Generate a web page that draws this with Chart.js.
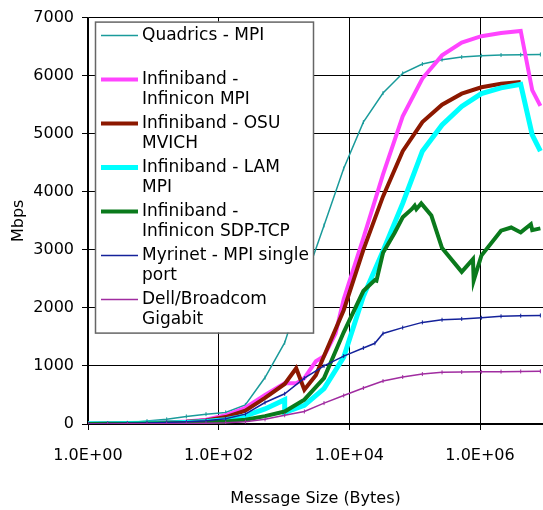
<!DOCTYPE html>
<html>
<head>
<meta charset="utf-8">
<script src="https://cdn.jsdelivr.net/npm/chart.js@4"></script>
<style>
  html, body { margin: 0; padding: 0; background: #fff; }
  #chart { display: block; }
</style>
</head>
<body>
<canvas id="chart" width="543" height="510"></canvas>
<script>
// message sizes in bytes
const sizes = [1, 2, 4, 8, 16, 32, 64, 128, 256, 512, 1024, 2048, 4096, 8192, 16384, 32768, 65536, 131072, 262144, 524288, 1048576, 2097152, 4194304, 8388608];

const xTickValues = [1, 100, 10000, 1000000];
const xTickLabels = ['1.0E+00', '1.0E+02', '1.0E+04', '1.0E+06'];

// Quadrics - MPI
const quadricsMbps = [8, 12, 20, 50, 80, 130, 170, 200, 330, 800, 1400, 2450, 3420, 4400, 5200, 5700, 6040, 6200, 6275, 6320, 6345, 6355, 6360, 6365];

// Infiniband - Infinicon MPI
const infiniconSizes = [1, 2, 4, 8, 16, 32, 64, 128, 256, 512, 1024, 1536, 2048, 3072, 4096, 6144, 8192, 16384, 32768, 65536, 131072, 262144, 524288, 1048576, 2097152, 4194304, 6291456, 8388608];
const infiniconMbps = [5, 8, 12, 18, 28, 45, 75, 150, 280, 500, 700, 700, 790, 1080, 1170, 1560, 2150, 3200, 4300, 5300, 5950, 6350, 6570, 6680, 6735, 6770, 5750, 5480];

// Infiniband - OSU MVICH
const osuSizes = [1, 2, 4, 8, 16, 32, 64, 128, 256, 512, 1024, 1536, 2048, 3072, 4096, 8192, 16384, 32768, 65536, 131072, 262144, 524288, 1048576, 2097152, 4194304];
const osuMbps = [4, 6, 10, 15, 24, 38, 60, 120, 230, 450, 690, 960, 590, 840, 1170, 1960, 3000, 3920, 4700, 5200, 5500, 5690, 5800, 5860, 5890];

// Infiniband - LAM MPI
const lamSizes = [1, 2, 4, 8, 16, 32, 64, 128, 256, 512, 1024, 1024, 2048, 4096, 8192, 16384, 32768, 65536, 131072, 262144, 524288, 1048576, 2097152, 4194304, 6291456, 8388608];
const lamMbps = [3, 5, 8, 12, 18, 28, 42, 75, 140, 260, 420, 200, 320, 610, 1150, 2200, 2980, 3800, 4700, 5150, 5470, 5690, 5790, 5850, 4980, 4700];

// Infiniband - Infinicon SDP-TCP
const sdpSizes = [1, 2, 4, 8, 16, 32, 64, 128, 256, 512, 1024, 2048, 4096, 8192, 16384, 24576, 26000, 32768, 49152, 65536, 90000, 100000, 106000, 126000, 180000, 262144, 524288, 780000, 800000, 1048576, 2097152, 3000000, 4194304, 6000000, 6300000, 8388608];
const sdpMbps = [2, 4, 6, 9, 13, 19, 27, 45, 75, 135, 215, 420, 790, 1580, 2290, 2480, 2470, 2950, 3290, 3560, 3700, 3760, 3700, 3800, 3590, 3030, 2620, 2840, 2470, 2900, 3330, 3385, 3300, 3440, 3340, 3370];

// Myrinet - MPI single port
const myrinetSizes = [1, 2, 4, 8, 16, 32, 64, 128, 256, 512, 1024, 2048, 4096, 8192, 16384, 24576, 32768, 65536, 131072, 262144, 524288, 1048576, 2097152, 4194304, 8388608];
const myrinetMbps = [6, 9, 13, 19, 27, 38, 55, 90, 170, 370, 520, 790, 1000, 1170, 1310, 1390, 1560, 1660, 1750, 1795, 1810, 1830, 1855, 1865, 1870];

// Dell/Broadcom Gigabit
const dellMbps = [1, 2, 3, 4, 6, 9, 13, 22, 40, 80, 150, 215, 360, 490, 620, 740, 810, 860, 890, 895, 898, 902, 905, 908];

const seriesNames = [
    ['Quadrics - MPI'],
    ['Infiniband -', 'Infinicon MPI'],
    ['Infiniband - OSU', 'MVICH'],
    ['Infiniband - LAM', 'MPI'],
    ['Infiniband -', 'Infinicon SDP-TCP'],
    ['Myrinet - MPI single', 'port'],
    ['Dell/Broadcom', 'Gigabit']
];

function points(xs, ys) {
    return xs.map((x, i) => ({ x: x, y: ys[i] }));
}

function series(i, data, color, width, marker) {
    return {
        label: seriesNames[i].join(' '),
        data: data,
        borderColor: color,
        backgroundColor: color,
        borderWidth: width,
        pointRadius: marker ? 2 : 0,
        pointStyle: 'line',
        rotation: 90,
        pointBorderWidth: 1,
        order: 10 - i,
        fill: false
    };
}

const datasets = [
    series(0, points(sizes, quadricsMbps), '#1a9b9b', 1.5, true),
    series(1, points(infiniconSizes, infiniconMbps), '#ff44ff', 4, false),
    series(2, points(osuSizes, osuMbps), '#8c1800', 4, false),
    series(3, points(lamSizes, lamMbps), '#00ffff', 5, false),
    series(4, points(sdpSizes, sdpMbps), '#0a7a1c', 4, false),
    series(5, points(myrinetSizes, myrinetMbps), '#14229a', 1.5, true),
    series(6, points(sizes, dellMbps), '#a02ca0', 1.5, true)
];

// legend box drawn inside the plot, on top of the lines
const legendBox = {
    id: 'legendBox',
    afterDraw(chart) {
        const ctx = chart.ctx;
        const left = chart.chartArea.left + 7;
        const top = chart.chartArea.top + 4;
        const w = 218, h = 311;
        ctx.save();
        ctx.fillStyle = '#fff';
        ctx.fillRect(left, top, w, h);
        ctx.strokeStyle = '#666';
        ctx.lineWidth = 1.5;
        ctx.strokeRect(left + 0.5, top + 0.5, w, h);
        ctx.font = '17px "DejaVu Sans"';
        ctx.textBaseline = 'middle';
        ctx.fillStyle = '#000';
        chart.data.datasets.forEach((ds, i) => {
            const y = top + 14 + 44 * i;
            ctx.strokeStyle = ds.borderColor;
            ctx.lineWidth = ds.borderWidth;
            ctx.beginPath();
            ctx.moveTo(left + 6, y);
            ctx.lineTo(left + 43, y);
            ctx.stroke();
            seriesNames[i].forEach((line, j) => {
                ctx.fillText(line, left + 47, y + 20 * j);
            });
        });
        ctx.restore();
    }
};

Chart.defaults.font.family = '"DejaVu Sans", Verdana, sans-serif';
Chart.defaults.font.size = 16;
Chart.defaults.color = '#000';

new Chart(document.getElementById('chart'), {
    type: 'line',
    data: { datasets: datasets },
    options: {
        responsive: false,
        animation: false,
        layout: { autoPadding: false, padding: { top: 16, right: 0, bottom: 0, left: 0 } },
        plugins: {
            legend: { display: false },
            tooltip: { enabled: false }
        },
        elements: { line: { tension: 0 } },
        scales: {
            x: {
                type: 'logarithmic',
                min: 1,
                max: 9.2e6,
                afterBuildTicks: function(scale) {
                    scale.ticks = xTickValues.map(v => ({ value: v }));
                },
                afterFit: function(scale) {
                    scale.height = 86;
                    scale.paddingLeft = 0;
                    scale.paddingRight = 0;
                },
                ticks: {
                    autoSkip: false,
                    maxRotation: 0,
                    padding: 16,
                    callback: function(value) {
                        return xTickLabels[xTickValues.indexOf(value)];
                    }
                },
                grid: { color: '#000', lineWidth: 1, tickLength: 6, tickColor: '#000' },
                border: { color: '#000', width: 1.5 },
                title: { display: true, text: 'Message Size (Bytes)', padding: { top: 0, bottom: 2 } }
            },
            y: {
                min: 0,
                max: 7000,
                afterFit: function(scale) {
                    scale.width = 88;
                },
                ticks: {
                    stepSize: 1000,
                    padding: 8,
                    callback: function(value) {
                        return String(value);
                    }
                },
                grid: { color: '#000', lineWidth: 1, tickLength: 6, tickColor: '#000' },
                border: { color: '#000', width: 1.5 },
                title: { display: true, text: 'Mbps', padding: { top: 9, bottom: 0 } }
            }
        }
    },
    plugins: [legendBox]
});
</script>
</body>
</html>
